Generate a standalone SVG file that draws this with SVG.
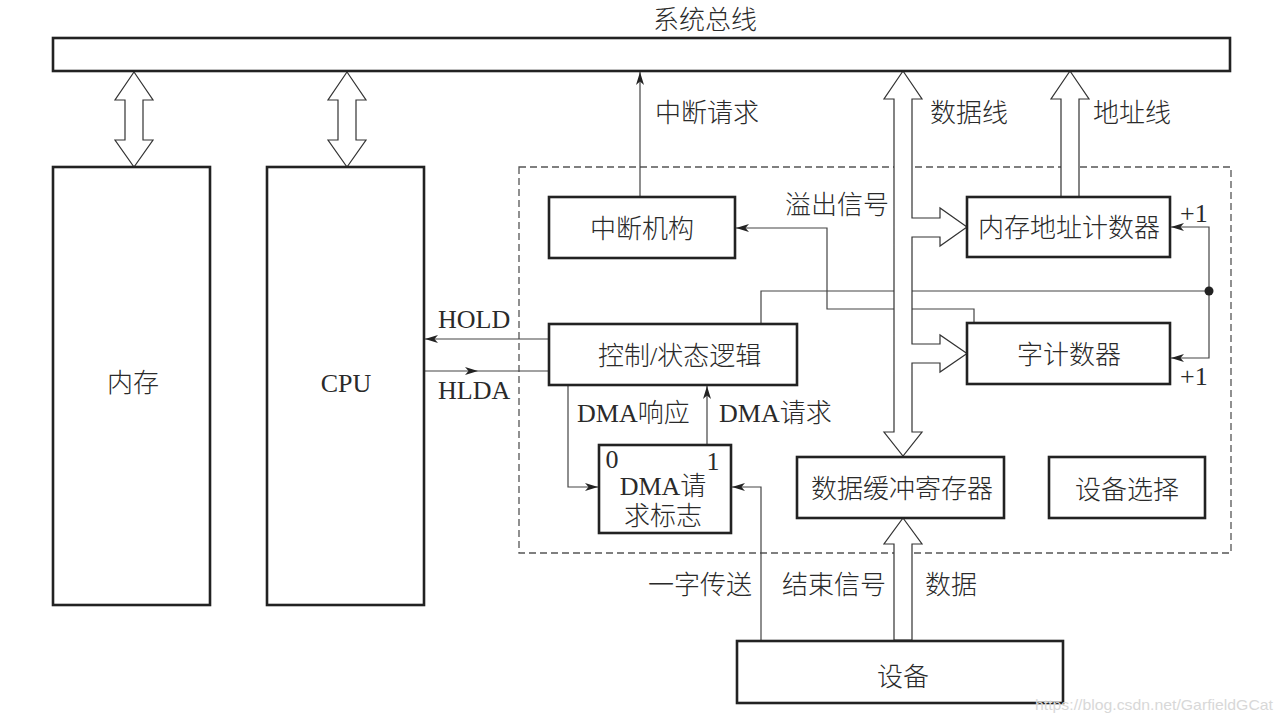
<svg xmlns="http://www.w3.org/2000/svg" width="1283" height="724" viewBox="0 0 1283 724">
<style>
.box{fill:#fff;stroke:#222;stroke-width:2.6}
.t{font-family:"Liberation Serif","Noto Sans CJK SC",serif;font-size:26px;font-weight:300;fill:#2a2a2a;dominant-baseline:central}
.m{text-anchor:middle}
.ln{fill:none;stroke:#444;stroke-width:1.2}
.bus{fill:#fff;stroke:#333;stroke-width:1.2;stroke-linejoin:miter}
.dash{fill:none;stroke:#555;stroke-width:1.3;stroke-dasharray:7 4}
</style>
<defs>
<marker id="ah" markerUnits="userSpaceOnUse" markerWidth="14" markerHeight="8" refX="13" refY="4" orient="auto" viewBox="0 0 14 8">
<path d="M0,0 L13,4 L0,8 L3.5,4 z" fill="#222"/>
</marker>
</defs>
<rect width="1283" height="724" fill="#fff"/>

<g id="dma-interface-frame">
<rect class="dash" x="519" y="167" width="712" height="386"/>
</g>

<g id="connectors">
<path class="ln" d="M640,197 L640,72" marker-end="url(#ah)"/>
<path class="ln" d="M549,339 L425,339" marker-end="url(#ah)"/>
<path class="ln" d="M424,371 L478,371 L549,371" marker-mid="url(#ah)"/>
<path class="ln" d="M974,323 L974,309 L827,309 L827,228 L736,228" marker-end="url(#ah)"/>
<path class="ln" d="M761,324 L761,291 L1209,291"/>
<path class="ln" d="M1209,291 L1209,227 L1171,227" marker-end="url(#ah)"/>
<path class="ln" d="M1209,291 L1209,358 L1171,358" marker-end="url(#ah)"/>
<circle cx="1209" cy="291" r="4.5" fill="#222"/>
<path class="ln" d="M707,445 L707,386" marker-end="url(#ah)"/>
<path class="ln" d="M568,385 L568,487 L598,487" marker-end="url(#ah)"/>
<path class="ln" d="M761,640 L761,487 L732,487" marker-end="url(#ah)"/>
<polygon class="bus" points="134,72 153,100 143,100 143,140 153,140 134,167 115,140 125,140 125,100 115,100"/>
<polygon class="bus" points="347,72 366,100 356,100 356,140 366,140 347,167 328,140 338,140 338,100 328,100"/>
<polygon class="bus" points="903,71 922,99 912,99 912,218 940,218 940,208 967,227 940,246 940,237 912,237 912,344 940,344 940,335 967,353.5 940,372 940,363 912,363 912,432 922,432 903,456 884,432 894,432 894,99 884,99"/>
<polygon class="bus" points="1070,71 1089,99 1079,99 1079,197 1061,197 1061,99 1051,99"/>
<polygon class="bus" points="903,518 922,544 912,544 912,640 894,640 894,544 884,544"/>
</g>

<g id="system-bus">
<rect class="box" x="53" y="38" width="1177" height="33"/>
<text class="t m" x="705" y="20">系统总线</text>
</g>
<g id="memory">
<rect class="box" x="53" y="167" width="157" height="438"/>
<text class="t m" x="133" y="383">内存</text>
</g>
<g id="cpu">
<rect class="box" x="267" y="167" width="157" height="438"/>
<text class="t m" x="346" y="383">CPU</text>
</g>
<g id="interrupt-unit">
<rect class="box" x="549" y="197" width="186" height="61"/>
<text class="t m" x="642" y="229">中断机构</text>
</g>
<g id="mem-addr-counter">
<rect class="box" x="967" y="197" width="203" height="60"/>
<text class="t m" x="1069" y="228">内存地址计数器</text>
</g>
<g id="word-counter">
<rect class="box" x="967" y="323" width="203" height="61"/>
<text class="t m" x="1069" y="355">字计数器</text>
</g>
<g id="control-logic">
<rect class="box" x="549" y="324" width="248" height="61"/>
<text class="t" x="598" y="356">控制/状态逻辑</text>
</g>
<g id="dma-flag">
<rect class="box" x="599" y="445" width="132" height="88"/>
<text class="t m" x="612" y="459">0</text>
<text class="t m" x="713" y="461">1</text>
<text class="t m" x="663" y="486">DMA请</text>
<text class="t m" x="663" y="516">求标志</text>
</g>
<g id="data-buffer">
<rect class="box" x="797" y="457" width="207" height="61"/>
<text class="t m" x="902" y="489">数据缓冲寄存器</text>
</g>
<g id="device-select">
<rect class="box" x="1049" y="457" width="156" height="61"/>
<text class="t m" x="1127" y="490">设备选择</text>
</g>
<g id="device">
<rect class="box" x="737" y="641" width="326" height="62"/>
<text class="t m" x="903" y="677">设备</text>
</g>

<g id="labels">
<text class="t" x="655" y="113">中断请求</text>
<text class="t" x="930" y="113">数据线</text>
<text class="t" x="1093" y="113">地址线</text>
<text class="t" x="785" y="205">溢出信号</text>
<text class="t" x="1180" y="213">+1</text>
<text class="t" x="1180" y="376">+1</text>
<text class="t" x="438" y="319">HOLD</text>
<text class="t" x="438" y="390">HLDA</text>
<text class="t" x="577" y="413">DMA响应</text>
<text class="t" x="719" y="413">DMA请求</text>
<text class="t" x="648" y="585">一字传送</text>
<text class="t" x="782" y="585">结束信号</text>
<text class="t" x="925" y="585">数据</text>
<text x="1035" y="710" font-family="Liberation Sans, sans-serif" font-size="15" fill="#d8d8d8" textLength="238" lengthAdjust="spacingAndGlyphs">https://blog.csdn.net/GarfieldGCat</text>
</g>
</svg>
